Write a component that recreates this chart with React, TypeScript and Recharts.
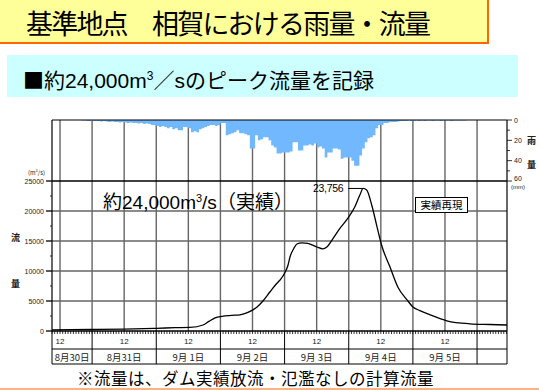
import React from "react";
import { ComposedChart, Area, Line, XAxis, YAxis, CartesianGrid, ReferenceLine } from "recharts";

// hours are counted from 8/30 00:00; the chart starts at 8/30 09:00
const START_HOUR = 9;
const END_HOUR = 179.2;

// hourly rainfall (mm)
const rain0830 = [0, 0, 0, 0, 0, 0, 0, 0, 0, 0, 0, 0.5, 0.5, 1, 1];
const rain0831 = [1, 1, 1, 1.5, 1, 1.5, 2, 1.5, 2, 2, 2.5, 2, 2.5, 3, 2.5, 3, 3, 3.5, 3, 4, 3.5, 4, 5, 5];
const rain0901 = [6, 7, 6, 7, 8, 7, 9, 8, 10, 10, 7, 7, 8, 12, 11, 12, 9, 8, 7, 6, 5, 5, 6, 5];
const rain0902 = [3, 3, 15, 14, 13, 12, 10, 13, 13, 14, 15, 28, 28, 15, 20, 19, 17, 17, 20, 25, 27, 33, 33, 32];
const rain0903 = [32, 32, 31, 22, 22, 30, 30, 25, 25, 24, 25, 23, 27, 26, 28, 37, 32, 32, 28, 28, 29, 38, 37, 37];
const rain0904 = [37, 40, 45, 45, 35, 28, 22, 18, 17, 15, 8, 5, 5, 3, 3, 2, 2, 2, 1.5, 1, 1, 1, 0.5, 1];
const rain0905 = [1, 0.5, 1, 0.5, 1, 0.5, 0.5, 1, 0.5, 0.5, 1, 0.5, 0.5, 0.5, 1, 0.5, 0.5, 0.5, 0.5, 0.5, 0, 0, 0, 0];
const rain0906 = [0, 0, 0, 0, 0, 0, 0, 0, 0, 0, 0, 0];

// discharge (m3/s)
const flowHours = [
  9, 24, 36, 48, 55, 60.6, 65.5, 67.7, 70, 72.6, 76.3, 79.3, 82.3, 85.7, 87.9, 90.5, 92.8, 94.3,
  96.1, 97.3, 98, 99.5, 100.6, 102.5, 104.7, 108.1, 110.3, 111.8, 114.1, 116.7, 119.7, 122.3,
  124.2, 125.4, 126.7, 128.6, 130.4, 132.3, 135.4, 138.4, 141.8, 144, 146.6, 150.4, 156.7,
  165.3, 172.8, 179.2,
];
const flowValues = [
  200, 250, 300, 450, 550, 600, 1000, 1600, 2200, 2450, 2600, 2700, 3100, 4000, 5000, 6500, 7800, 8500,
  9700, 11000, 12300, 13800, 14500, 14700, 14600, 14000, 13700, 14000, 15400, 17100, 18800, 20700,
  22700, 23756, 23500, 21000, 17700, 14300, 10700, 7300, 5200, 4000, 3400, 2700, 1700,
  1200, 1080, 1000,
];
const PEAK_HOUR = 125.4;
const PEAK_FLOW = 23756;

const dayLabels = ["8月30日", "8月31日", "9月 1日", "9月 2日", "9月 3日", "9月 4日", "9月 5日"];
const flowTicks = [0, 2500, 5000, 7500, 10000, 12500, 15000, 17500, 20000, 22500, 25000];
const rainTicks = [0, 10, 20, 30, 40, 50, 60];
const gridFlow = [5000, 10000, 15000, 20000];
const gridHours = [12, 24, 36, 48, 60, 72, 84, 96, 108, 120, 132, 144, 156, 168];

const rainRows = [...rain0830, ...rain0831, ...rain0901, ...rain0902, ...rain0903, ...rain0904, ...rain0905, ...rain0906]
  .map((r, i) => ({ hour: START_HOUR + i, rain: r }));
const flowRows = flowHours.map((h, i) => ({ hour: h, flow: flowValues[i] }));
const hourTicks = rainRows.map((r) => r.hour);

const W = 539;
const H = 390;
const PLOT_LEFT = 52;
const PLOT_RIGHT = 507;
const PLOT_TOP = 120;
const PLOT_BOTTOM = 331;
const FLOW_MAX = (25000 * (PLOT_BOTTOM - PLOT_TOP)) / 150;
const RAIN_MAX = (60 * (PLOT_BOTTOM - PLOT_TOP)) / 61;
const PX_PER_HOUR = (PLOT_RIGHT - PLOT_LEFT) / (END_HOUR - START_HOUR);

const numFont = "'Liberation Sans', Arial, sans-serif";
const jpFont = "'Noto Sans CJK JP', sans-serif";

function HourTick({ x, payload }: any) {
  const h = payload.value;
  const b = PLOT_BOTTOM;
  return (
    <g>
      <line x1={x} x2={x} y1={b} y2={b + 3} stroke="#000" strokeWidth={0.8} />
      {h === START_HOUR && (
        <g stroke="#000" strokeWidth={1}>
          <line x1={PLOT_LEFT} x2={PLOT_RIGHT} y1={b + 18} y2={b + 18} />
          <line x1={PLOT_LEFT} x2={PLOT_RIGHT} y1={b + 33} y2={b + 33} />
          <line x1={PLOT_LEFT} x2={PLOT_LEFT} y1={b} y2={b + 33} />
          <line x1={PLOT_RIGHT} x2={PLOT_RIGHT} y1={b} y2={b + 33} />
        </g>
      )}
      {h % 24 === 0 && <line x1={x} x2={x} y1={b} y2={b + 33} stroke="#000" strokeWidth={1} />}
      {h % 24 === 12 && (
        <text x={x} y={b + 13} textAnchor="middle" fontSize={8} fontFamily={numFont} fill="#222">
          12
        </text>
      )}
      {h % 24 === 12 && (
        <text
          x={h === 12 ? x + (16.5 - 12) * PX_PER_HOUR : x}
          y={b + 29.5}
          textAnchor="middle"
          fontSize={9.5}
          fontFamily={jpFont}
          fill="#222"
        >
          {dayLabels[Math.floor(h / 24)]}
        </text>
      )}
    </g>
  );
}

function FlowTick({ y, payload }: any) {
  const v = payload.value;
  const major = v % 5000 === 0;
  return (
    <g>
      <line x1={PLOT_LEFT - (major ? 6 : 2)} x2={PLOT_LEFT} y1={y} y2={y} stroke="#000" strokeWidth={major ? 1.3 : 0.8} />
      {major && (
        <text x={PLOT_LEFT - 8} y={y + 2.5} textAnchor="end" fontSize={7} fontFamily={numFont} fill="#222">
          {v}
        </text>
      )}
    </g>
  );
}

function RainTick({ y, payload }: any) {
  const v = payload.value;
  const major = v % 20 === 0;
  return (
    <g>
      <line x1={PLOT_RIGHT} x2={PLOT_RIGHT + (major ? 5 : 3)} y1={y} y2={y} stroke="#000" strokeWidth={0.8} />
      {major && (
        <text x={PLOT_RIGHT + 7} y={y + (v === 60 ? 0 : 2.5)} fontSize={7} fontFamily={numFont} fill="#222">
          {v}
        </text>
      )}
    </g>
  );
}

const abs = (s: React.CSSProperties): React.CSSProperties => ({ position: "absolute", ...s });

export default function App() {
  return (
    <div style={abs({ left: 0, top: 0, width: W, height: H, background: "#fff", overflow: "hidden" })}>
      <div
        style={abs({
          left: 0, top: 0, width: 487, height: 42, background: "#FFFF99",
          borderRight: "2px solid #FF6600", borderBottom: "2px solid #FF6600",
        })}
      />
      <div
        style={abs({
          left: 26, top: 0, fontFamily: jpFont, fontSize: 27, lineHeight: "46px", color: "#000",
          whiteSpace: "pre", letterSpacing: -1.8,
        })}
      >
        基準地点　相賀における雨量・流量
      </div>
      <div style={abs({ left: 7, top: 55, width: 511, height: 42, background: "#CCFFFF" })} />
      <div style={abs({ left: 23, top: 55, fontFamily: jpFont, fontSize: 21, lineHeight: "42px", color: "#000", whiteSpace: "pre" })}>
        ■約<span style={{ fontFamily: numFont }}>24,000m<sup style={{ fontSize: 12 }}>3</sup></span>／
        <span style={{ fontFamily: numFont }}>s</span>のピーク流量を記録
      </div>

      <div style={abs({ left: 0, top: 0 })}>
        <ComposedChart
          width={W}
          height={H}
          data={rainRows}
          margin={{ top: PLOT_TOP, bottom: H - PLOT_BOTTOM - 33, left: PLOT_LEFT - 40, right: W - PLOT_RIGHT - 30 }}
        >
          <CartesianGrid
            yAxisId="flow"
            horizontalValues={gridFlow}
            verticalValues={gridHours}
            stroke="#666"
            strokeWidth={1.4}
          />
          <XAxis
            dataKey="hour"
            type="number"
            domain={[START_HOUR, END_HOUR]}
            allowDataOverflow
            ticks={hourTicks}
            interval={0}
            tick={<HourTick />}
            tickLine={false}
            axisLine={{ stroke: "#000", strokeWidth: 1.3 }}
            height={33}
          />
          <YAxis
            yAxisId="flow"
            type="number"
            domain={[0, FLOW_MAX]}
            allowDataOverflow
            ticks={flowTicks}
            interval={0}
            tick={<FlowTick />}
            tickLine={false}
            axisLine={{ stroke: "#000", strokeWidth: 1.2 }}
            width={40}
          />
          <YAxis
            yAxisId="rain"
            orientation="right"
            type="number"
            reversed
            domain={[0, RAIN_MAX]}
            allowDataOverflow
            ticks={rainTicks}
            interval={0}
            tick={<RainTick />}
            tickLine={false}
            axisLine={{ stroke: "#000", strokeWidth: 1.2 }}
            width={30}
          />
          <Area
            yAxisId="rain"
            dataKey="rain"
            type="stepAfter"
            fill="#72B8FF"
            fillOpacity={1}
            stroke="none"
            isAnimationActive={false}
          />
          <ReferenceLine yAxisId="flow" y={25000} stroke="#000" strokeWidth={1.5} />
          <ReferenceLine yAxisId="rain" y={0} stroke="#000" strokeWidth={1.2} />
          <ReferenceLine
            yAxisId="flow"
            segment={[{ x: 119.8, y: PEAK_FLOW }, { x: PEAK_HOUR, y: PEAK_FLOW }]}
            stroke="#000"
            strokeWidth={1}
          />
          <Line
            yAxisId="flow"
            data={flowRows}
            dataKey="flow"
            type="monotone"
            stroke="#000"
            strokeWidth={1.3}
            dot={false}
            isAnimationActive={false}
          />
        </ComposedChart>
      </div>

      <div style={abs({ left: 28, top: 167, fontFamily: jpFont, fontSize: 6, color: "#222", whiteSpace: "pre" })}>
        (m<sup style={{ fontSize: 4 }}>3</sup>/s)
      </div>
      <div style={abs({ left: 11, top: 231, fontFamily: jpFont, fontSize: 9, fontWeight: 700, color: "#222" })}>流</div>
      <div style={abs({ left: 11, top: 277, fontFamily: jpFont, fontSize: 9, fontWeight: 700, color: "#222" })}>量</div>
      <div style={abs({ left: 527, top: 134, fontFamily: jpFont, fontSize: 9, fontWeight: 700, color: "#222" })}>雨</div>
      <div style={abs({ left: 527, top: 158, fontFamily: jpFont, fontSize: 9, fontWeight: 700, color: "#222" })}>量</div>
      <div style={abs({ left: 511, top: 184, fontFamily: numFont, fontSize: 6, color: "#222" })}>(mm)</div>

      <div style={abs({ left: 103, top: 186, fontFamily: numFont, fontSize: 19, lineHeight: "24px", color: "#000", whiteSpace: "pre" })}>
        <span style={{ fontFamily: jpFont }}>約</span>24,000m<sup style={{ fontSize: 11 }}>3</sup>/s
        <span style={{ fontFamily: jpFont }}>（実績）</span>
      </div>
      <div style={abs({ left: 313, top: 182, fontFamily: numFont, fontSize: 10.5, lineHeight: "12px", color: "#000", letterSpacing: -0.3 })}>
        23,756
      </div>
      <div
        style={abs({
          left: 415, top: 197, width: 51, height: 14, border: "1px solid #000", background: "#fff",
          fontFamily: jpFont, fontSize: 10.5, lineHeight: "14px", textAlign: "center", color: "#000",
        })}
      >
        実績再現
      </div>

      <div
        style={abs({
          left: 77, top: 369, fontFamily: jpFont, fontSize: 16.5, lineHeight: "18px", color: "#000",
          whiteSpace: "pre", letterSpacing: 0.5,
        })}
      >
        ※流量は、ダム実績放流・氾濫なしの計算流量
      </div>
      <div style={abs({ left: 0, top: 388, width: W, height: 2, background: "#FFB27F" })} />
    </div>
  );
}
